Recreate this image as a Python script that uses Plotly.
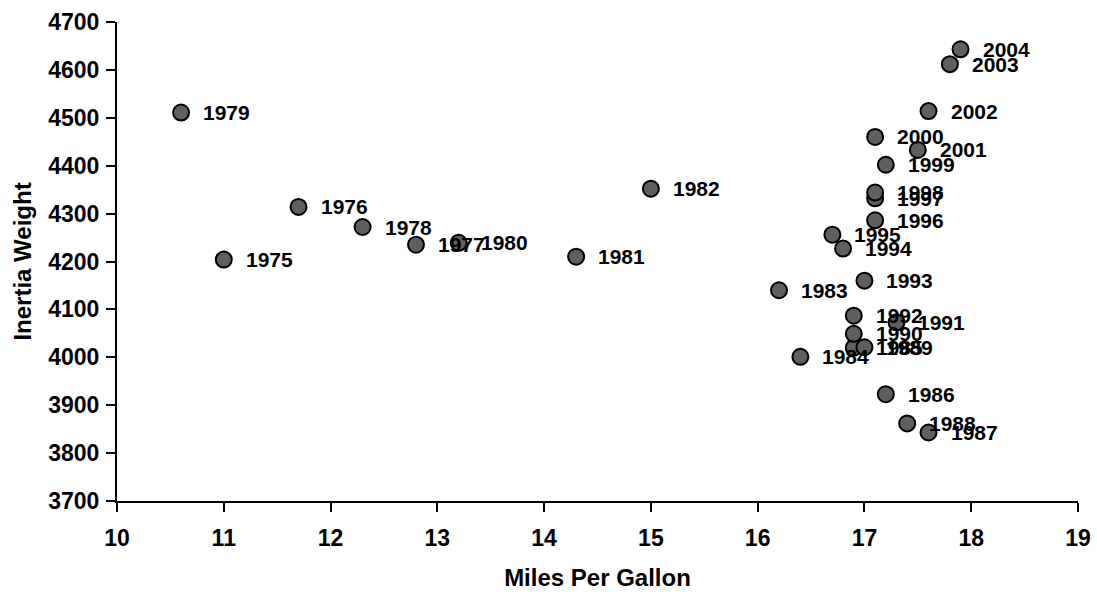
import plotly.graph_objects as go

years = ["1975", "1976", "1977", "1978", "1979", "1980", "1981", "1982", "1983", "1984",
         "1985", "1986", "1987", "1988", "1989", "1990", "1991", "1992", "1993", "1994",
         "1995", "1996", "1997", "1998", "1999", "2000", "2001", "2002", "2003", "2004"]
mpg = [11.0, 11.7, 12.8, 12.3, 10.6, 13.2, 14.3, 15.0, 16.2, 16.4,
       16.9, 17.2, 17.6, 17.4, 17.0, 16.9, 17.3, 16.9, 17.0, 16.8,
       16.7, 17.1, 17.1, 17.1, 17.2, 17.1, 17.5, 17.6, 17.8, 17.9]
weight = [4204, 4314, 4235, 4272, 4511, 4239, 4210, 4352, 4140, 4001,
          4020, 3923, 3843, 3862, 4021, 4049, 4073, 4087, 4160, 4227,
          4256, 4286, 4332, 4344, 4402, 4460, 4433, 4514, 4612, 4643]

x_ticks = list(range(10, 20))
y_ticks = list(range(3700, 4701, 100))

FONT = "Liberation Sans, Arial, sans-serif"

fig = go.Figure()
fig.add_trace(go.Scatter(
    x=mpg, y=weight, mode="markers",
    marker=dict(size=16, color="#5f5f5f", line=dict(color="black", width=2)),
    hoverinfo="skip", showlegend=False,
))

for yr, xv, yv in zip(years, mpg, weight):
    fig.add_annotation(
        x=xv, y=yv, text="<b>%s</b>" % yr, showarrow=False,
        xanchor="left", yanchor="middle", xshift=20,
        font=dict(family=FONT, size=21, color="black"),
    )

fig.update_layout(
    width=1097, height=592,
    margin=dict(l=117, r=19, t=22, b=91, autoexpand=False),
    paper_bgcolor="white", plot_bgcolor="white",
    font=dict(family=FONT, color="black"),
    hovermode=False,
    xaxis=dict(
        range=[10, 19], tickvals=x_ticks, ticktext=["<b>%d</b>" % v for v in x_ticks],
        showgrid=False, zeroline=False, showline=True, linecolor="black", linewidth=2,
        ticks="outside", ticklen=9, tickwidth=2, tickcolor="black",
        tickfont=dict(family=FONT, size=23, color="black"), ticklabelstandoff=6,
        title=dict(text="<b>Miles Per Gallon</b>", font=dict(family=FONT, size=24, color="black"), standoff=20),
    ),
    yaxis=dict(
        range=[3700, 4700], tickvals=y_ticks, ticktext=["<b>%d</b>" % v for v in y_ticks],
        showgrid=False, zeroline=False, showline=True, linecolor="black", linewidth=2,
        ticks="outside", ticklen=9, tickwidth=2, tickcolor="black",
        tickfont=dict(family=FONT, size=23, color="black"), ticklabelstandoff=2,
        title=dict(text="<b>Inertia Weight</b>", font=dict(family=FONT, size=24, color="black"), standoff=10),
    ),
)

fig.write_html(
    "out.html",
    config={"displayModeBar": False},
    post_script="document.body.style.margin='0';document.body.style.overflow='hidden';",
)
